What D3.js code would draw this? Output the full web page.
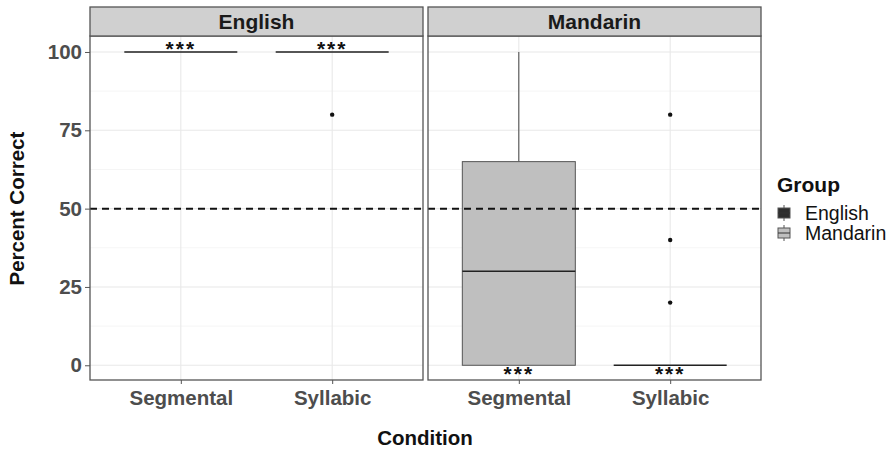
<!DOCTYPE html>
<html>
<head>
<meta charset="utf-8">
<script src="https://cdn.jsdelivr.net/npm/d3@7"></script>
<style>
  body { margin: 0; background: #fff; }
  text { font-family: "Liberation Sans", Arial, sans-serif; }
</style>
</head>
<body>
<svg id="chart" width="894" height="449"></svg>
<script>
const panels = ["English", "Mandarin"];
const conditions = ["Segmental", "Syllabic"];
const yTicks = [0, 25, 50, 75, 100];
const groupColors = { English: "#2e2e2e", Mandarin: "#bfbfbf" };

// box stats per panel/condition: [lower whisker, q1, median, q3, upper whisker]
const boxes = [
  { group: "English", condition: "Segmental", stats: [100, 100, 100, 100, 100], outliers: [] },
  { group: "English", condition: "Syllabic", stats: [100, 100, 100, 100, 100], outliers: [80] },
  { group: "Mandarin", condition: "Segmental", stats: [0, 0, 30, 65, 100], outliers: [] },
  { group: "Mandarin", condition: "Syllabic", stats: [0, 0, 0, 0, 0], outliers: [80, 40, 20] }
];

// significance labels: above the box for English, below for Mandarin
const sigLabels = [
  { group: "English", condition: "Segmental", label: "***", side: "top" },
  { group: "English", condition: "Syllabic", label: "***", side: "top" },
  { group: "Mandarin", condition: "Segmental", label: "***", side: "bottom" },
  { group: "Mandarin", condition: "Syllabic", label: "***", side: "bottom" }
];

const chance = 50;

const svg = d3.select("#chart");

const panelX = { English: 90, Mandarin: 428 };
const panelW = 333;
const stripTop = 7, plotTop = 36, plotBottom = 380;

const y = d3.scaleLinear().domain([-4.7, 105.1]).range([plotBottom, plotTop]);

panels.forEach((p) => {
  const g = svg.append("g").attr("transform", `translate(${panelX[p]},0)`);
  const xs = d3.scalePoint().domain(conditions).range([0, panelW]).padding(0.6);
  const bw = 113;

  // grid
  const minor = [12.5, 37.5, 62.5, 87.5];
  g.selectAll(".minor").data(minor).enter().append("line")
    .attr("x1", 0).attr("x2", panelW)
    .attr("y1", (d) => y(d)).attr("y2", (d) => y(d))
    .attr("stroke", "#f2f2f2").attr("stroke-width", 0.8);
  g.selectAll(".major").data(yTicks).enter().append("line")
    .attr("x1", 0).attr("x2", panelW)
    .attr("y1", (d) => y(d)).attr("y2", (d) => y(d))
    .attr("stroke", "#e8e8e8").attr("stroke-width", 1.1);
  g.selectAll(".vgrid").data(conditions).enter().append("line")
    .attr("x1", (d) => xs(d)).attr("x2", (d) => xs(d))
    .attr("y1", plotTop).attr("y2", plotBottom)
    .attr("stroke", "#e8e8e8").attr("stroke-width", 1.1);

  // boxes
  boxes.filter((b) => b.group === p).forEach((b) => {
    const cx = xs(b.condition);
    const [lo, q1, med, q3, hi] = b.stats;
    g.append("line").attr("x1", cx).attr("x2", cx)
      .attr("y1", y(q3)).attr("y2", y(hi)).attr("stroke", "#444").attr("stroke-width", 1);
    g.append("line").attr("x1", cx).attr("x2", cx)
      .attr("y1", y(q1)).attr("y2", y(lo)).attr("stroke", "#444").attr("stroke-width", 1);
    g.append("rect").attr("x", cx - bw / 2).attr("width", bw)
      .attr("y", y(q3)).attr("height", y(q1) - y(q3))
      .attr("fill", groupColors[p]).attr("stroke", "#555").attr("stroke-width", 1);
    g.append("line").attr("x1", cx - bw / 2).attr("x2", cx + bw / 2)
      .attr("y1", y(med)).attr("y2", y(med)).attr("stroke", "#222").attr("stroke-width", 1.6);
    g.selectAll(null).data(b.outliers).enter().append("circle")
      .attr("cx", cx).attr("cy", (d) => y(d)).attr("r", 2.2).attr("fill", "#111");
  });

  // chance line
  g.append("line").attr("x1", 0).attr("x2", panelW)
    .attr("y1", y(chance)).attr("y2", y(chance))
    .attr("stroke", "#111").attr("stroke-width", 2).attr("stroke-dasharray", "7,5");

  // significance
  sigLabels.filter((s) => s.group === p).forEach((s) => {
    const b = boxes.find((d) => d.group === p && d.condition === s.condition);
    const yy = s.side === "top" ? y(b.stats[4]) + 4 : y(b.stats[0]) + 16;
    g.append("text").attr("x", xs(s.condition)).attr("y", yy)
      .attr("text-anchor", "middle").attr("font-size", 21).attr("font-weight", "bold")
      .attr("letter-spacing", 2).attr("fill", "#111").text(s.label);
  });

  // panel border
  g.append("rect").attr("x", 0).attr("y", plotTop).attr("width", panelW)
    .attr("height", plotBottom - plotTop).attr("fill", "none")
    .attr("stroke", "#555").attr("stroke-width", 1.3);

  // strip
  g.append("rect").attr("x", 0).attr("y", stripTop).attr("width", panelW)
    .attr("height", plotTop - stripTop).attr("fill", "#d0d0d0")
    .attr("stroke", "#555").attr("stroke-width", 1.3);
  g.append("text").attr("x", panelW / 2).attr("y", plotTop - 7)
    .attr("text-anchor", "middle").attr("font-size", 21).attr("font-weight", "bold")
    .attr("fill", "#1a1a1a").text(p);

  // x axis
  const xAxis = g.append("g").attr("transform", `translate(0,${plotBottom})`)
    .call(d3.axisBottom(xs).tickSize(4).tickPadding(6));
  xAxis.select(".domain").remove();
  xAxis.selectAll("line").attr("stroke", "#555");
  xAxis.selectAll("text").attr("font-size", 20.5).attr("font-weight", "bold")
    .attr("fill", "#4d4d4d").attr("font-family", "Liberation Sans, Arial, sans-serif");
});

// y axis
const yAxis = svg.append("g").attr("transform", `translate(${panelX.English},0)`)
  .call(d3.axisLeft(y).tickValues(yTicks).tickSize(5).tickPadding(3));
yAxis.select(".domain").remove();
yAxis.selectAll("line").attr("stroke", "#555");
yAxis.selectAll("text").attr("font-size", 20.5).attr("font-weight", "bold")
  .attr("fill", "#4d4d4d").attr("font-family", "Liberation Sans, Arial, sans-serif");

// axis titles
svg.append("text").attr("transform", `translate(24,${y(50)}) rotate(-90)`)
  .attr("text-anchor", "middle").attr("font-size", 20.5).attr("font-weight", "bold")
  .attr("fill", "#111").text("Percent Correct");
svg.append("text").attr("x", 425).attr("y", 445)
  .attr("text-anchor", "middle").attr("font-size", 20.5).attr("font-weight", "bold")
  .attr("fill", "#111").text("Condition");

// legend
const lg = svg.append("g").attr("transform", "translate(777,0)");
lg.append("text").attr("x", 0).attr("y", 192).attr("font-size", 21)
  .attr("font-weight", "bold").attr("fill", "#111").text("Group");
panels.forEach((p, i) => {
  const cy = 213 + i * 20;
  lg.append("line").attr("x1", 7).attr("x2", 7).attr("y1", cy - 8).attr("y2", cy + 8)
    .attr("stroke", "#555").attr("stroke-width", 1);
  lg.append("rect").attr("x", 1).attr("y", cy - 5).attr("width", 12).attr("height", 10)
    .attr("fill", groupColors[p]).attr("stroke", "#555").attr("stroke-width", 1);
  lg.append("line").attr("x1", 1).attr("x2", 13).attr("y1", cy).attr("y2", cy)
    .attr("stroke", "#333").attr("stroke-width", 1);
  lg.append("text").attr("x", 28).attr("y", cy + 7).attr("font-size", 19.5)
    .attr("fill", "#111").text(p);
});
</script>
</body>
</html>
